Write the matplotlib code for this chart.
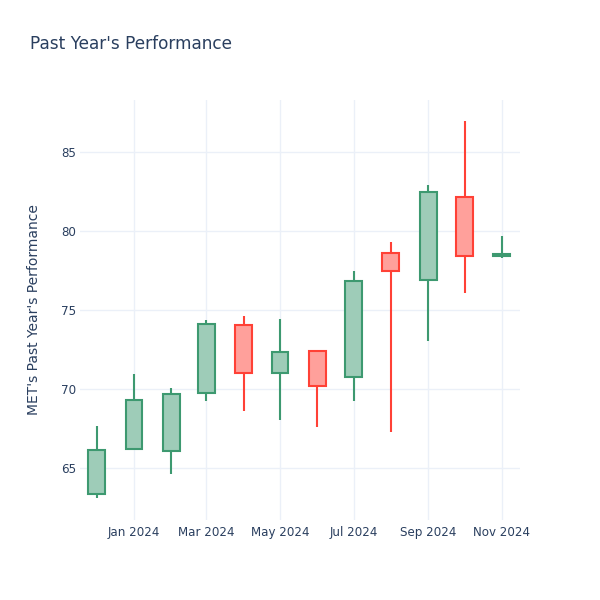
import matplotlib
matplotlib.use("Agg")
import matplotlib.pyplot as plt
import matplotlib.dates as mdates
import pandas as pd

months = pd.date_range("2023-12-01", periods=12, freq="MS")
opens = [63.35, 66.2, 66.1, 69.75, 74.05, 71.05, 72.4, 70.75, 78.6, 76.9, 82.15, 78.45]
highs = [67.7, 70.95, 70.05, 74.35, 74.65, 74.45, 72.5, 77.5, 79.3, 82.95, 86.95, 79.7]
lows = [63.1, 66.2, 64.6, 69.25, 68.6, 68.05, 67.6, 69.25, 67.3, 73.05, 76.1, 78.3]
closes = [66.15, 69.3, 69.7, 74.1, 71.05, 72.35, 70.2, 76.85, 77.5, 82.45, 78.45, 78.55]

inc_line, inc_fill = "#3D9970", "#9ECCB8"
dec_line, dec_fill = "#FF4136", "#FFA09B"
text_col = "#2a3f5f"
grid_col = "#EBF0F8"

plt.rcParams["font.family"] = ["DejaVu Sans"]

fig = plt.figure(figsize=(6, 6), dpi=100)
ax = fig.add_axes([80 / 600, 80 / 600, 440 / 600, 420 / 600])

for d, o, h, l, c in zip(months, opens, highs, lows, closes):
    up = c >= o
    lc = inc_line if up else dec_line
    fc = inc_fill if up else dec_fill
    top, bot = max(o, c), min(o, c)
    ax.vlines(d, top, h, color=lc, lw=1.5, zorder=3)
    ax.vlines(d, l, bot, color=lc, lw=1.5, zorder=3)
    ax.bar(d, top - bot, bottom=bot, width=14, color=fc, edgecolor=lc,
           linewidth=1.5, zorder=4)

ax.set_xlim(pd.Timestamp("2023-11-17 06:00"), pd.Timestamp("2024-11-16"))
ax.set_ylim(61.72, 88.3)

ax.set_yticks([65, 70, 75, 80, 85])
xt = pd.to_datetime(["2024-01-01", "2024-03-01", "2024-05-01",
                     "2024-07-01", "2024-09-01", "2024-11-01"])
ax.set_xticks(xt)
ax.xaxis.set_major_formatter(mdates.DateFormatter("%b %Y"))

ax.grid(True, color=grid_col, lw=1, zorder=0)
ax.set_axisbelow(True)
for s in ax.spines.values():
    s.set_visible(False)
ax.tick_params(length=0, labelsize=8.6, colors=text_col)
ax.tick_params(axis="y", pad=3)
ax.tick_params(axis="x", pad=4)

ax.set_ylabel("MET's Past Year's Performance", fontsize=10, color=text_col, labelpad=14)
fig.text(30 / 600, 1 - 44 / 600, "Past Year's Performance", fontsize=12.2,
         color=text_col, va="center", ha="left")

fig.savefig("out.png", dpi=100, facecolor="white")
